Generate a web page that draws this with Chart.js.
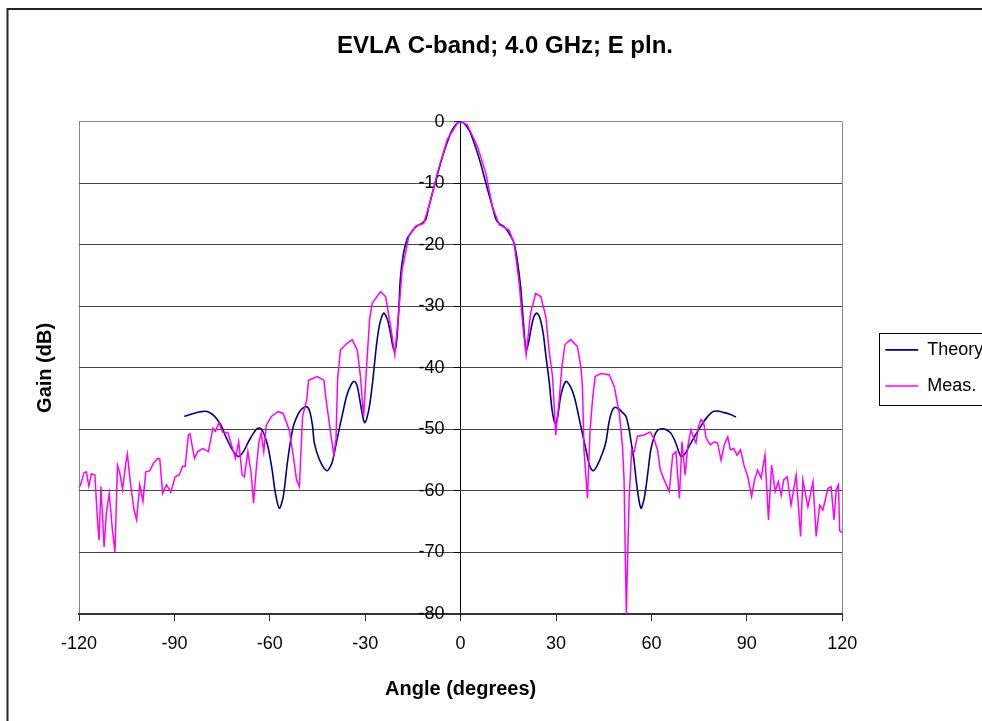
<!DOCTYPE html>
<html>
<head>
<meta charset="utf-8">
<script src="https://cdn.jsdelivr.net/npm/chart.js@4/dist/chart.umd.min.js"></script>
<style>
html, body { margin: 0; padding: 0; background: #fff; overflow: hidden; }
#wrap { position: relative; width: 988px; height: 721px; }
</style>
</head>
<body>
<div id="wrap"><canvas id="beamChart"></canvas></div>
<script>
// angles in degrees, gain in dB
const theoryAngle = [-86.9, -84, -81.6, -79.7, -77.5, -75.5, -73.8, -71.8, -69.8, -68.3, -66.5, -64.3, -63, -61.7, -60.5, -59.3, -58.2, -57, -55.8, -54.5, -53.2, -52.3, -50.5, -48.6, -47.5, -46.6, -46, -44.4, -42.1, -40.5, -39.2, -38, -37.1, -35.8, -34.5, -33.4, -32.5, -31.6, -30.6, -30.1, -29.5, -28.6, -27.6, -26.5, -25.5, -24.2, -23.1, -22.2, -21.3, -20.7, -20, -19.4, -18.9, -18, -16.8, -15.7, -14.5, -13.6, -12.2, -11, -10, -8.9, -7.6, -6.3, -5, -3.1, -2, -1, 0,
  1, 2, 3.1, 5, 6.3, 7.6, 8.9, 10, 11, 12.2, 13.6, 14.8, 16, 16.8, 17.8, 18.9, 19.8, 20.6, 21.3, 22.2, 23.1, 24, 25, 26, 26.8, 27.8, 28.8, 29.7, 30.5, 31.5, 33.1, 34.5, 35.8, 36.7, 38, 39.5, 40.5, 41.7, 43, 44.5, 45.7, 46.6, 47.6, 48.6, 50, 51, 52, 53, 53.5, 54.5, 55.5, 56.7, 57.8, 59, 59.8, 61, 62, 63.3, 64.5, 66.1, 67.5, 69.3, 70.5, 72, 73.5, 75.5, 77.5, 79.3, 80.8, 82.4, 84.5, 86.6];
const theoryGain = [-47.9, -47.4, -47.1, -47.1, -47.8, -49.2, -51.2, -53.3, -54.4, -53.6, -51.8, -50, -49.8, -50.9, -53, -56.5, -60.5, -62.8, -61, -55.5, -51, -49, -47, -46.3, -47, -49.3, -52.2, -54.9, -56.7, -55.5, -52.5, -49.5, -47.4, -44.5, -42.8, -42.2, -43, -45.5, -48.3, -48.9, -48.2, -46, -42, -36.5, -33, -31.1, -32, -34, -36.5, -37.3, -35, -30, -25.2, -21.5, -19, -18.1, -17.3, -16.9, -16.5, -15.9, -13.8, -11.6, -9.2, -6.7, -4.5, -1.8, -0.8, -0.2, 0,
  -0.2, -0.8, -1.8, -4.6, -6.8, -9.3, -11.8, -13.8, -15.7, -16.6, -17, -17.8, -18.8, -19.7, -22.5, -27, -33, -37.1, -36, -33.5, -31.6, -31.1, -32, -34.5, -38, -42, -47, -49, -48, -44.5, -42.2, -43, -44.8, -46.8, -50, -53.5, -55.8, -56.7, -55.8, -54, -52, -49, -47, -46.4, -46.8, -47.3, -47.9, -50, -51.7, -55, -59.5, -62.8, -61, -56.5, -53.3, -51, -50.1, -49.9, -50, -50.6, -52, -54.4, -54, -52.6, -51.2, -49.5, -48, -47.1, -47, -47.2, -47.5, -48];

const measAngle = [-120, -119.5, -118.4, -117.7, -116.9, -116.1, -115, -114.2, -113.7, -113.1, -112.1, -111.4, -110.5, -109.5, -108.7, -107.9, -107.2, -106.3, -105.3, -104.8, -103.7, -102.7, -101.9, -100.9, -99.9, -99, -97.7, -96.7, -95.3, -94.6, -93.7, -92.5, -91.1, -89.8, -88.5, -87.4, -86.6, -85.6, -85.1, -83.7, -82.7, -81.1, -79.3, -77.9, -77.1, -76, -74.8, -73.2, -71.6, -70.8, -69.8, -68.7, -68, -66.9, -65.9, -65.1, -64.3, -63.4, -62.7, -61.9, -61.1, -59.5, -57.4, -55.8, -53.9, -52.6, -51.6, -50.7, -49.7, -48.4, -47.8, -45.1, -43, -42.3, -40.7, -39.9, -39.2, -38.7, -37.8, -35.7, -34.1, -32.5, -31.5, -30.5, -29.6, -28.6, -27.8, -25.2, -23.6, -22, -20.7, -19.4, -18.4, -16.3, -14.2, -11.6, -9.4, -7.3, -4.2, -1, 0,
  2.1, 5.3, 7.9, 10, 12.1, 15.2, 16.8, 18.4, 19.7, 20.6, 22, 23.6, 25.2, 26.8, 27.8, 28.9, 29.9, 31, 31.8, 32.8, 34.6, 36.7, 37.8, 38.3, 38.8, 39.9, 40.7, 41.5, 42.3, 44.1, 46.7, 48.3, 49.9, 50.9, 51.4, 51.8, 52.1, 52.5, 53, 53.8, 54.6, 55.6, 57.7, 59.6, 60.7, 61.9, 62.8, 64, 65.6, 66.7, 67.7, 68.8, 69.6, 70.6, 71.4, 72.4, 73.3, 74, 74.8, 75.6, 76.4, 77.2, 78.5, 79.8, 80.8, 81.9, 82.9, 84, 84.8, 85.9, 86.9, 88, 89.2, 90.3, 91.5, 92.4, 93.4, 94.5, 95.7, 96.8, 97.8, 98.9, 99.9, 100.8, 101.6, 102.7, 103.9, 105.5, 106.9, 107.6, 109.2, 110.8, 111.8, 112.9, 113.9, 115.5, 116.5, 117.4, 118.1, 118.8, 119.2, 120];
const measGain = [-59.5, -59, -57, -56.9, -59.2, -57.2, -57.4, -64.7, -68, -59.3, -69.1, -63.6, -60.4, -66.3, -69.9, -55.8, -57, -59.8, -55.5, -54, -59.3, -63.1, -64.7, -59, -61.7, -56.9, -56.7, -55.6, -54.7, -54.8, -60.4, -59, -60.2, -57.7, -57.4, -56, -56, -50.9, -50.7, -54.7, -53.6, -53.1, -53.6, -49.8, -50.3, -48.9, -50.5, -50.5, -53.3, -54.7, -52, -57.4, -57.7, -53.6, -57, -62, -56.6, -52, -50.6, -53.6, -49.3, -47.9, -47.1, -47.4, -50.1, -54.4, -58.2, -59.3, -47.9, -45.2, -42, -41.4, -42, -45.2, -51.2, -54.1, -51.7, -42, -37.1, -36, -35.4, -37.1, -41.4, -48, -40, -32, -29.5, -27.6, -28.4, -33.3, -37.9, -30.6, -24.1, -18.6, -17, -16.5, -12.7, -8.3, -2.9, -0.2, 0,
  -0.5, -4, -8.3, -13.8, -16.7, -17.6, -19.7, -26.2, -33.8, -37.9, -31.1, -27.9, -28.4, -31.7, -37.1, -41.4, -50.9, -45.2, -40, -36.2, -35.4, -36.5, -39.8, -43, -53.4, -61.2, -50.1, -45, -41.4, -40.9, -41.1, -43, -47.4, -52.8, -58.2, -71.2, -80, -71, -61, -53.3, -53.6, -51.1, -50.9, -50.4, -51.4, -53.3, -56.6, -58.2, -60.1, -54.1, -53.6, -61.2, -52, -57.4, -52.8, -50.1, -51.4, -52.2, -49.5, -48.4, -48.9, -51.4, -52.5, -52, -52.2, -55, -52.5, -51.2, -53.3, -53.1, -54.2, -53.3, -56, -57.7, -60.9, -58.2, -56.6, -57.9, -54.1, -64.7, -55.8, -60.1, -58.5, -60.7, -58.2, -57.7, -62.3, -57.4, -67.4, -58.2, -62.6, -58.5, -67.4, -62.3, -63.1, -59.6, -59.3, -64.7, -59.8, -59, -66.5, -66.8];

const xTicks = [-120, -90, -60, -30, 0, 30, 60, 90, 120];
const yTicks = [0, -10, -20, -30, -40, -50, -60, -70, -80];

Chart.defaults.font.family = '"Liberation Sans", Arial, sans-serif';
Chart.defaults.color = '#000';

const frames = {
  id: 'frames',
  beforeDraw(chart) {
    const ctx = chart.ctx;
    ctx.save();
    ctx.strokeStyle = '#222';
    ctx.lineWidth = 2;
    ctx.strokeRect(7.5, 9, chart.width + 20, chart.height + 20);
    ctx.restore();
  },
  afterDraw(chart) {
    const hb = chart.legend.legendHitBoxes;
    if (!hb || !hb.length) return;
    const first = hb[0], last = hb[hb.length - 1];
    const ctx = chart.ctx;
    const top = Math.round(first.top - 8) + 0.5;
    const bottom = Math.round(last.top + last.height + 10) + 0.5;
    const left = Math.round(first.left - 6) + 0.5;
    ctx.save();
    ctx.strokeStyle = '#000';
    ctx.lineWidth = 1;
    ctx.strokeRect(left, top, chart.width, bottom - top);
    ctx.restore();
  }
};

let beamChart = document.getElementById('beamChart').getContext('2d');

let chart = new Chart(beamChart, {
  type: 'line',
  data: {
    datasets: [{
      label: 'Theory',
      data: theoryAngle.map((a, i) => ({x: a, y: theoryGain[i]})),
      borderColor: '#000080',
      borderWidth: 1.6,
      pointRadius: 0,
      tension: 0.3,
      fill: false,
      order: 2,
      xAxisID: 'x',
      yAxisID: 'y'
    }, {
      label: 'Meas.',
      data: measAngle.map((a, i) => ({x: a, y: measGain[i]})),
      borderColor: '#ff00ff',
      borderWidth: 1.5,
      pointRadius: 0,
      tension: 0,
      fill: false,
      order: 1,
      xAxisID: 'x',
      yAxisID: 'y'
    }]
  },
  options: {
    responsive: true,
    maintainAspectRatio: false,
    animation: false,
    devicePixelRatio: 1,
    layout: { padding: { left: 22, right: 0, top: 0, bottom: 0 } },
    plugins: {
      title: {
        display: true,
        text: 'EVLA C-band; 4.0 GHz; E pln.',
        color: '#000',
        font: { size: 24, weight: 'bold' },
        padding: { top: 32, bottom: 61 }
      },
      legend: {
        position: 'right',
        fullSize: false,
        align: 'center',
        labels: {
          usePointStyle: true,
          pointStyle: 'line',
          pointStyleWidth: 33,
          padding: 18,
          color: '#000',
          font: { size: 18 },
          sort: (a, b) => a.datasetIndex - b.datasetIndex
        }
      },
      tooltip: { enabled: false }
    },
    scales: {
      x: {
        type: 'linear',
        position: 'bottom',
        min: -120,
        max: 120,
        afterBuildTicks: s => { s.ticks = xTicks.map(v => ({value: v})); },
        afterFit: s => { s.height = 107; },
        ticks: { font: { size: 18 }, color: '#000', padding: 12, maxRotation: 0 },
        grid: {
          color: c => (c.tick && Math.abs(c.tick.value) === 120) ? '#888' : 'rgba(0,0,0,0)',
          tickColor: '#333',
          tickLength: 7
        },
        border: { display: true, color: '#333', width: 2 },
        title: {
          display: true,
          text: 'Angle (degrees)',
          color: '#000',
          font: { size: 20, weight: 'bold' },
          padding: { top: 0, bottom: 20 }
        }
      },
      y: {
        type: 'linear',
        position: 'center',
        min: -80,
        max: 0,
        afterBuildTicks: s => { s.ticks = yTicks.map(v => ({value: v})); },
        ticks: { font: { size: 18 }, color: '#000', padding: 0 },
        grid: {
          color: c => (c.tick && c.tick.value === 0) ? '#888' : '#444',
          lineWidth: 1,
          tickLength: 16,
          tickColor: '#000',
          tickBorderDash: [6, 10]
        },
        border: { display: true, color: '#000', width: 1 }
      },
      yTitle: {
        type: 'linear',
        position: 'left',
        min: -80,
        max: 0,
        ticks: { display: false },
        grid: { display: false },
        border: { display: false },
        afterFit: s => { s.width = 57; },
        title: {
          display: true,
          text: 'Gain (dB)',
          color: '#000',
          font: { size: 20, weight: 'bold' },
          padding: { top: 11, bottom: 0 }
        }
      },
      ySpacer: {
        type: 'linear',
        position: 'right',
        ticks: { display: false },
        grid: { display: false },
        border: { display: false },
        afterFit: s => { s.width = 25; }
      }
    }
  },
  plugins: [frames]
});
</script>
</body>
</html>
